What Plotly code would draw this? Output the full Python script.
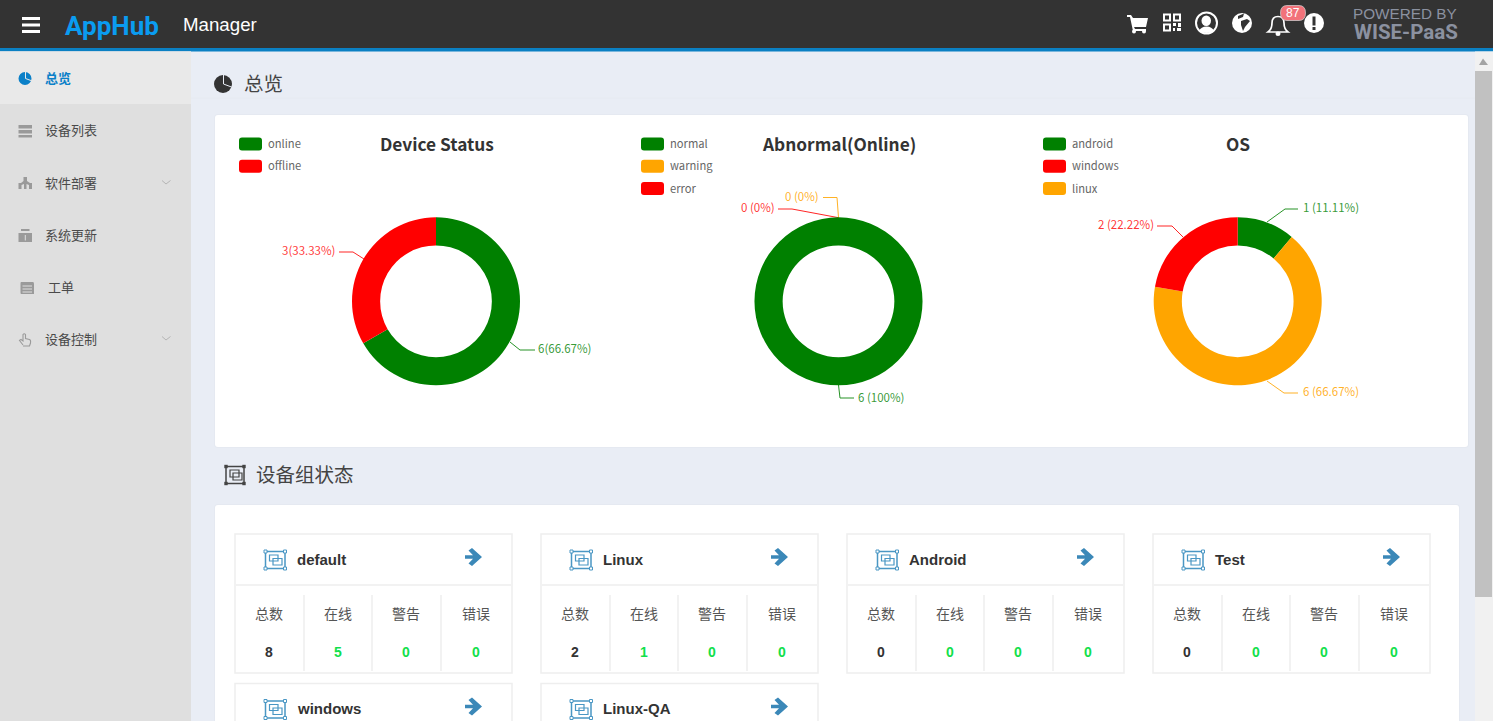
import plotly.graph_objects as go

# Fonts used on the page
cjk_font = 'Noto Sans CJK SC'
latin_font = 'Liberation Sans'
logo_font = 'Roboto'

# Donut values, clockwise from twelve o'clock
donuts = [
    {'values': [6, 3], 'colors': ['green', 'red'], 'center': 436.0},
    {'values': [6, 0, 0], 'colors': ['green', 'orange', 'red'], 'center': 838.5},
    {'values': [1, 6, 2], 'colors': ['green', 'orange', 'red'], 'center': 1237.7},
]
center_y = 301.3
radius = 84.0
page_w = 1493
page_h = 721

# Legend entries: x of swatch, then name and color top to bottom
legends = [
    (239, [('online', 'green'), ('offline', 'red')]),
    (641, [('normal', 'green'), ('warning', 'orange'), ('error', 'red')]),
    (1043, [('android', 'green'), ('windows', 'red'), ('linux', 'orange')]),
]

# Leader lines and their labels: points, color, label color, label, label x, label y, anchor
leaders = [
    ([339, 353, 364], [252, 252, 259], 'red', 'rgba(255,0,0,0.8)', '3(33.33%)', 336, 250, 'right'),
    ([510, 520, 535], [342, 350, 350], 'green', 'rgba(0,128,0,0.8)', '6(66.67%)', 536.5, 348, 'left'),
    ([823, 837, 838.5], [197.5, 197.5, 217.7], 'orange', 'rgba(255,165,0,0.85)', '0 (0%)', 820, 196, 'right'),
    ([778, 792, 838.5], [209, 209, 217.7], 'red', 'rgba(255,0,0,0.8)', '0 (0%)', 775.5, 207, 'right'),
    ([838.5, 840, 854], [385, 398, 398], 'green', 'rgba(0,128,0,0.8)', '6 (100%)', 856.5, 396.5, 'left'),
    ([1267, 1285, 1298], [222, 209, 209], 'green', 'rgba(0,128,0,0.8)', '1 (11.11%)', 1301.5, 207, 'left'),
    ([1157, 1172, 1183], [226, 226, 237], 'red', 'rgba(255,0,0,0.8)', '2 (22.22%)', 1154.5, 224, 'right'),
    ([1267, 1284, 1298], [381, 393, 393], 'orange', 'rgba(255,165,0,0.85)', '6 (66.67%)', 1301.5, 391, 'left'),
]

# Device group cards: name, left edge, top edge, total, online, warning, error
groups = [
    ('default', 235, 534, 8, 5, 0, 0),
    ('Linux', 541, 534, 2, 1, 0, 0),
    ('Android', 847, 534, 0, 0, 0, 0),
    ('Test', 1153, 534, 0, 0, 0, 0),
    ('windows', 235, 683.5, None, None, None, None),
    ('Linux-QA', 541, 683.5, None, None, None, None),
]

fig = go.Figure()

# Donuts, placed by domain in page pixels
for donut in donuts:
    fig.add_trace(go.Pie(
        values=donut['values'],
        marker=dict(colors=donut['colors'], line=dict(width=0)),
        hole=0.665,
        sort=False,
        direction='clockwise',
        rotation=0,
        textinfo='none',
        hoverinfo='skip',
        showlegend=False,
        domain=dict(
            x=[(donut['center'] - radius) / page_w, (donut['center'] + radius) / page_w],
            y=[1 - (center_y + radius) / page_h, 1 - (center_y - radius) / page_h],
        ),
    ))

# Leader lines
for xs, ys, color, label_color, label, lx, ly, anchor in leaders:
    fig.add_trace(go.Scatter(x=xs, y=ys, mode='lines', line=dict(color=color, width=1),
                             opacity=0.85, showlegend=False, hoverinfo='skip'))

# Page blocks: x0, y0, x1, y1, corner, fill, outline
blocks = [
    (0, 0, 1493, 48, 0, '#333333', None),
    (0, 48, 1493, 51.5, 0, '#0b80c3', None),
    (0, 51.5, 191, 721, 0, '#dfdfdf', None),
    (0, 51.5, 191, 104, 0, '#e9e9e9', None),
    (1475, 51.5, 1493, 721, 0, '#f1f1f1', None),
    (1475, 71, 1492, 597, 0, '#c1c1c1', None),
    (214, 114, 1469, 448, 4, '#e5e9f1', None),
    (215, 115, 1468, 447, 3, '#ffffff', None),
    (214, 504, 1460, 725, 4, '#e5e9f1', None),
    (215, 505, 1459, 725, 3, '#ffffff', None),
]
for x0, y0, x1, y1, r, fill, outline in blocks:
    path = (f'M{x0 + r},{y0} L{x1 - r},{y0} Q{x1},{y0} {x1},{y0 + r} L{x1},{y1 - r} Q{x1},{y1} {x1 - r},{y1} '
            f'L{x0 + r},{y1} Q{x0},{y1} {x0},{y1 - r} L{x0},{y0 + r} Q{x0},{y0} {x0 + r},{y0} Z')
    fig.add_shape(type='path', path=path, fillcolor=fill, line=dict(width=0), layer='below')

# Faint rule under the page title
fig.add_shape(type='line', x0=191, x1=1475, y0=98, y1=98, line=dict(color='#e6eaf1', width=1), layer='below')

# Everything written on the page: x, y, text, size, color, anchor, family
texts = [
    (64, 25.5, '<b>AppHub</b>', 26, '#0a9cf0', 'left', logo_font),
    (181.5, 24.5, 'Manager', 18.7, '#ffffff', 'left', latin_font),
    (1352, 13, 'POWERED BY', 15.3, '#8b91a0', 'left', latin_font),
    (1353, 32, '<b>WISE-PaaS</b>', 20.5, '#8b91a0', 'left', logo_font),
    (1293, 13, '87', 12, '#ffffff', 'center', latin_font),
    (44, 77.5, '<b>总览</b>', 13, '#0b80c8', 'left', cjk_font),
    (44, 129.5, '设备列表', 13, '#4a4a4a', 'left', cjk_font),
    (44, 182, '软件部署', 13, '#4a4a4a', 'left', cjk_font),
    (44, 234, '系统更新', 13, '#4a4a4a', 'left', cjk_font),
    (47, 286, '工单', 13, '#4a4a4a', 'left', cjk_font),
    (44, 338, '设备控制', 13, '#4a4a4a', 'left', cjk_font),
    (243, 82.5, '总览', 19.5, '#444444', 'left', cjk_font),
    (255, 473.5, '设备组状态', 19.5, '#444444', 'left', cjk_font),
    (436.5, 143.5, '<b>Device Status</b>', 17.3, '#333333', 'center', cjk_font),
    (838.5, 143.5, '<b>Abnormal(Online)</b>', 17.3, '#333333', 'center', cjk_font),
    (1237.7, 143.5, '<b>OS</b>', 17.3, '#333333', 'center', cjk_font),
]

# Legend swatches and names
for swatch_x, entries in legends:
    for i, (name, color) in enumerate(entries):
        y0 = 137.5 + i * 22.3
        x1 = swatch_x + 23
        y1 = y0 + 13
        fig.add_shape(type='path', fillcolor=color, line=dict(width=0), layer='below',
                      path=(f'M{swatch_x + 3},{y0} L{x1 - 3},{y0} Q{x1},{y0} {x1},{y0 + 3} L{x1},{y1 - 3} Q{x1},{y1} {x1 - 3},{y1} '
                            f'L{swatch_x + 3},{y1} Q{swatch_x},{y1} {swatch_x},{y1 - 3} L{swatch_x},{y0 + 3} Q{swatch_x},{y0} {swatch_x + 3},{y0} Z'))
        texts.append((swatch_x + 27.5, y0 + 5.5, name, 11.2, '#666666', 'left', cjk_font))

# Donut labels
for xs, ys, color, label_color, label, lx, ly, anchor in leaders:
    texts.append((lx, ly, label, 11.5, label_color, anchor, cjk_font))

# Device group cards
for name, left, top, total, online, warning, error in groups:
    right = left + 277
    fig.add_shape(type='rect', x0=left, x1=right, y0=top, y1=top + 139, fillcolor='#ffffff',
                  line=dict(color='#eeeeee', width=1.5), layer='below')
    fig.add_shape(type='line', x0=left + 1, x1=right - 1, y0=top + 51, y1=top + 51,
                  line=dict(color='#eeeeee', width=1.5), layer='below')
    for offset in [69, 137, 206]:
        fig.add_shape(type='line', x0=left + offset, x1=left + offset, y0=top + 61, y1=top + 137,
                      line=dict(color='#eeeeee', width=1.5), layer='below')
    texts.append((left + 60.5, top + 25.3, f'<b>{name}</b>', 15, '#333333', 'left', latin_font))
    # blue group icon
    ix, iy = left + 29, top + 16
    fig.add_shape(type='rect', x0=ix + 1.5, x1=ix + 21, y0=iy + 1.5, y1=iy + 18.5, line=dict(color='#4a97c4', width=1.5), layer='below')
    fig.add_shape(type='rect', x0=ix + 5.5, x1=ix + 14, y0=iy + 5, y1=iy + 11, line=dict(color='#4a97c4', width=1.2), layer='below')
    fig.add_shape(type='rect', x0=ix + 9, x1=ix + 18, y0=iy + 8.5, y1=iy + 15, line=dict(color='#4a97c4', width=1.2), layer='below')
    for cx, cy in [(ix + 1.5, iy + 1.5), (ix + 21, iy + 1.5), (ix + 1.5, iy + 18.5), (ix + 21, iy + 18.5)]:
        fig.add_shape(type='rect', x0=cx - 1.5, x1=cx + 1.5, y0=cy - 1.5, y1=cy + 1.5,
                      fillcolor='#ffffff', line=dict(color='#4a97c4', width=1), layer='below')
    # arrow to the group page
    ax, ay = left + 230, top + 23
    fig.add_shape(type='path', fillcolor='#3b88b8', line=dict(width=0),
                  path=(f'M{ax},{ay - 1.8} L{ax + 8},{ay - 1.8} L{ax + 3.5},{ay - 6.5} L{ax + 7},{ay - 9} L{ax + 17},{ay} '
                        f'L{ax + 7},{ay + 9} L{ax + 3.5},{ay + 6.5} L{ax + 8},{ay + 1.8} L{ax},{ay + 1.8} Z'))
    if total is None:
        continue  # second row runs off the bottom of the window
    for cx, head, value, color in [(34, '总数', total, '#333333'), (103, '在线', online, '#12df4c'),
                                   (171, '警告', warning, '#12df4c'), (241, '错误', error, '#12df4c')]:
        texts.append((left + cx, top + 78.7, head, 14, '#555555', 'center', cjk_font))
        texts.append((left + cx, top + 118, f'<b>{value}</b>', 14, color, 'center', latin_font))

# Hamburger button
for y in [18.5, 25, 31.5]:
    fig.add_shape(type='line', x0=22, x1=40, y0=y, y1=y, line=dict(color='#ffffff', width=3))

# Header icons
fig.add_shape(type='path', fillcolor='#ffffff', line=dict(width=0),
              path='M1127,15 L1131,15 L1133,18 L1148,18 L1146,27 L1134,27 L1135,29 L1146,29 L1146,31 L1133,31 L1130,17 L1127,17 Z')
fig.add_shape(type='circle', x0=1132, x1=1136, y0=29.5, y1=33.5, fillcolor='#ffffff', line=dict(width=0))
fig.add_shape(type='circle', x0=1142, x1=1146, y0=29.5, y1=33.5, fillcolor='#ffffff', line=dict(width=0))
for qx, qy in [(1163, 13.5), (1173, 13.5), (1163, 23.5)]:
    fig.add_shape(type='rect', x0=qx + 1, x1=qx + 7, y0=qy + 1, y1=qy + 7, line=dict(color='#ffffff', width=2))
for qx, qy, qw, qh in [(1173, 23, 3, 3), (1178, 23, 3, 4), (1173, 28, 2, 3), (1177, 28, 4, 3)]:
    fig.add_shape(type='rect', x0=qx, x1=qx + qw, y0=qy, y1=qy + qh, fillcolor='#ffffff', line=dict(width=0))
fig.add_shape(type='circle', x0=1196, x1=1217, y0=12.5, y1=33.5, fillcolor='#333333', line=dict(color='#ffffff', width=2))
fig.add_shape(type='circle', x0=1201.5, x1=1211, y0=15.5, y1=26, fillcolor='#ffffff', line=dict(width=0))
fig.add_shape(type='path', fillcolor='#ffffff', line=dict(width=0),
              path='M1199,31 Q1201,26.5 1206.5,26.5 Q1212,26.5 1214,31 Q1206.5,35 1199,31 Z')
fig.add_shape(type='circle', x0=1232, x1=1252, y0=13, y1=33, fillcolor='#ffffff', line=dict(width=0))
fig.add_shape(type='path', fillcolor='#333333', line=dict(width=0),
              path='M1238,16 L1244,13.5 L1243,17 L1238,19 Z M1241,21 L1247,19 L1250,21 L1245,27 L1243,31 L1241,25 Z')
fig.add_shape(type='path', fillcolor='#333333', line=dict(color='#ffffff', width=1.7),
              path='M1268,32 Q1272,29 1272,23 Q1272,16.5 1278,16.5 Q1284,16.5 1284,23 Q1284,29 1288,32 Z')
fig.add_shape(type='circle', x0=1275.5, x1=1280.5, y0=31.5, y1=36, fillcolor='#ffffff', line=dict(width=0))
fig.add_shape(type='path', fillcolor='#f2727a', line=dict(color='#d9d9d9', width=0.7),
              path='M1287,5.5 L1299,5.5 Q1305.5,5.5 1305.5,13 Q1305.5,20.5 1299,20.5 L1287,20.5 Q1280.5,20.5 1280.5,13 Q1280.5,5.5 1287,5.5 Z')
fig.add_shape(type='circle', x0=1304, x1=1324, y0=13, y1=33, fillcolor='#ffffff', line=dict(width=0))
fig.add_shape(type='line', x0=1314, x1=1314, y0=16.5, y1=25.5, line=dict(color='#333333', width=3))
fig.add_shape(type='rect', x0=1312.5, x1=1315.5, y0=27, y1=30, fillcolor='#333333', line=dict(width=0))

# Scrollbar arrow
fig.add_shape(type='path', path='M1479,65 L1483,58.5 L1488,65 Z', fillcolor='#a3a3a3', line=dict(width=0))

# Pie icons: center x, center y, radius, color, slice color
for cx, cy, r, color, cut in [(25, 78.5, 6.5, '#0b80c8', '#e9e9e9'), (223, 84, 9, '#333333', '#e9edf5')]:
    fig.add_shape(type='circle', x0=cx - r, x1=cx + r, y0=cy - r, y1=cy + r, fillcolor=color, line=dict(width=0))
    fig.add_shape(type='path', line=dict(color=cut, width=1), path=f'M{cx + 0.5},{cy - r - 1} L{cx + 0.5},{cy} L{cx + r + 1},{cy + 0.4 * r}')

# Sidebar icons
gray = '#9a9a9a'
for y, h in [(125, 3.5), (130, 3.5), (135, 2.5)]:
    fig.add_shape(type='rect', x0=18.5, x1=32, y0=y, y1=y + h, fillcolor=gray, line=dict(width=0))
fig.add_shape(type='path', fillcolor=gray, line=dict(width=0),
              path='M23.5,177 L27,177 L27,181 L30,183 L32,183 L32,189 L29,189 L29,185 L26.5,184 L26.5,189 L24,189 L24,184 L21.5,185 L21.5,189 L18.5,189 L18.5,183 L21,183 L23.5,181 Z')
fig.add_shape(type='path', fillcolor=gray, line=dict(width=0),
              path='M18.5,233 L32,233 L32,242 L18.5,242 Z M21,229 L29.5,229 L29.5,231 L21,231 Z')
fig.add_shape(type='line', x0=25.3, x1=25.3, y0=235, y1=240.5, line=dict(color='#dfdfdf', width=1))
fig.add_shape(type='path', fillcolor=gray, line=dict(width=0),
              path='M21,282 L33,282 Q34,282 34,284 L34,294 L21,294 Q20.5,294 20.5,292 L20.5,284 Q20.5,282 21,282 Z')
for y in [286, 289, 292]:
    fig.add_shape(type='line', x0=22.5, x1=32, y0=y, y1=y, line=dict(color='#dfdfdf', width=1))
fig.add_shape(type='path', line=dict(color=gray, width=1.1),
              path='M23,345 L19.5,340.5 L21,339.5 L23,341 L23,334.5 Q24.3,333 25.5,334.5 L25.5,338.5 L29.5,339.5 Q31,340 30.5,343 L29.5,346 L23,346')

# Sidebar chevrons
for y in [180.5, 336.5]:
    fig.add_shape(type='path', path=f'M162,{y} L166,{y + 3.5} L170.5,{y}', line=dict(color='#b5b5b5', width=1))

# Section icon for the device groups
fig.add_shape(type='rect', x0=226, x1=244, y0=466.5, y1=483.5, line=dict(color='#444444', width=1.5), layer='below')
fig.add_shape(type='rect', x0=230, x1=239, y0=470, y1=477, line=dict(color='#444444', width=1.2), layer='below')
fig.add_shape(type='rect', x0=233, x1=242, y0=473, y1=480, line=dict(color='#444444', width=1.2), layer='below')
for cx, cy in [(226, 466.5), (244, 466.5), (226, 483.5), (244, 483.5)]:
    fig.add_shape(type='rect', x0=cx - 1.7, x1=cx + 1.7, y0=cy - 1.7, y1=cy + 1.7, fillcolor='#444444', line=dict(width=0))

# All the text
for x, y, text, size, color, anchor, family in texts:
    fig.add_annotation(x=x, y=y, text=text, showarrow=False, xanchor=anchor, yanchor='middle', borderpad=0,
                       font=dict(size=size, color=color, family=family))

fig.update_xaxes(range=[0, page_w], visible=False, fixedrange=True)
fig.update_yaxes(range=[page_h, 0], visible=False, fixedrange=True)
fig.update_layout(
    width=page_w,
    height=page_h,
    margin=dict(l=0, r=0, t=0, b=0),
    paper_bgcolor='#e9edf5',
    plot_bgcolor='#e9edf5',
    showlegend=False,
)

fig.write_html('out.html', post_script="document.body.style.margin='0';document.body.style.overflow='hidden';",
               config={'displayModeBar': False})
